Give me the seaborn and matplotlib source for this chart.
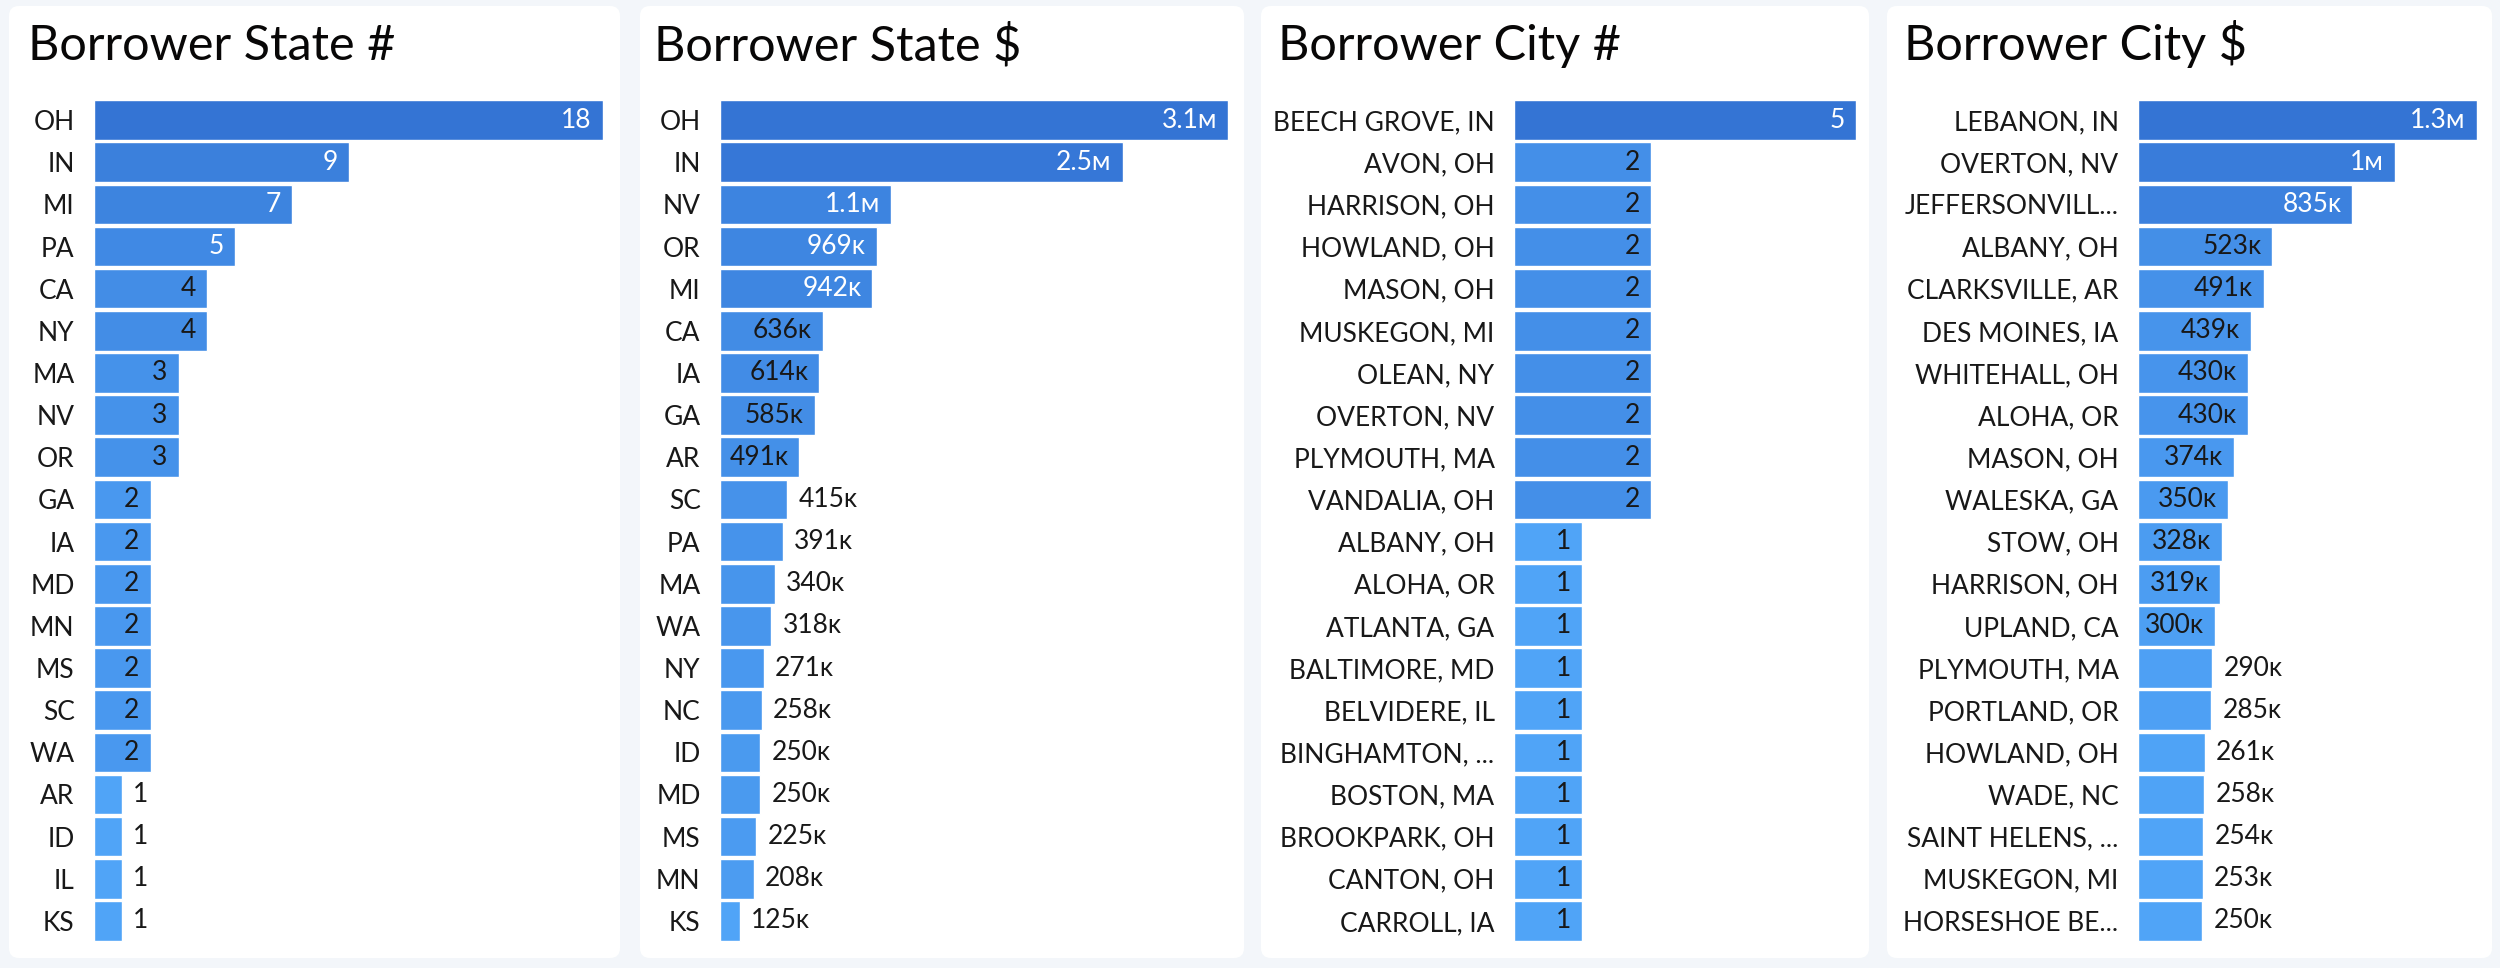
import numpy as np
import pandas as pd
import seaborn as sns
import matplotlib.pyplot as plt
from matplotlib.patches import FancyBboxPatch
from matplotlib.colors import to_rgb

# --- data ---
state_names = ["OH", "IN", "MI", "PA", "CA", "NY", "MA", "NV", "OR", "GA",
               "IA", "MD", "MN", "MS", "SC", "WA", "AR", "ID", "IL", "KS"]
state_counts = [18, 9, 7, 5, 4, 4, 3, 3, 3, 2, 2, 2, 2, 2, 2, 2, 1, 1, 1, 1]

state_amt_names = ["OH", "IN", "NV", "OR", "MI", "CA", "IA", "GA", "AR", "SC",
                   "PA", "MA", "WA", "NY", "NC", "ID", "MD", "MS", "MN", "KS"]
state_amounts = [3140000, 2490000, 1060000, 969000, 942000, 636000, 614000,
                 585000, 491000, 415000, 391000, 340000, 318000, 271000,
                 258000, 250000, 250000, 225000, 208000, 125000]

city_names = ["BEECH GROVE, IN", "AVON, OH", "HARRISON, OH", "HOWLAND, OH",
              "MASON, OH", "MUSKEGON, MI", "OLEAN, NY", "OVERTON, NV",
              "PLYMOUTH, MA", "VANDALIA, OH", "ALBANY, OH", "ALOHA, OR",
              "ATLANTA, GA", "BALTIMORE, MD", "BELVIDERE, IL", "BINGHAMTON, ...",
              "BOSTON, MA", "BROOKPARK, OH", "CANTON, OH", "CARROLL, IA"]
city_counts = [5, 2, 2, 2, 2, 2, 2, 2, 2, 2, 1, 1, 1, 1, 1, 1, 1, 1, 1, 1]

city_amt_names = ["LEBANON, IN", "OVERTON, NV", "JEFFERSONVILL...", "ALBANY, OH",
                  "CLARKSVILLE, AR", "DES MOINES, IA", "WHITEHALL, OH", "ALOHA, OR",
                  "MASON, OH", "WALESKA, GA", "STOW, OH", "HARRISON, OH",
                  "UPLAND, CA", "PLYMOUTH, MA", "PORTLAND, OR", "HOWLAND, OH",
                  "WADE, NC", "SAINT HELENS, ...", "MUSKEGON, MI", "HORSESHOE BE..."]
city_amounts = [1320000, 1000000, 835000, 523000, 491000, 439000, 430000, 430000,
                374000, 350000, 328000, 319000, 300000, 290000, 285000, 261000,
                258000, 254000, 253000, 250000]

titles = ["Borrower State #", "Borrower State $", "Borrower City #", "Borrower City $"]


def fmt_count(v):
    return str(v)


def fmt_money(v):
    if v >= 1e6:
        return f"{v / 1e6:.1f}".rstrip("0").rstrip(".") + "\u1d0d"
    return f"{v / 1e3:.0f}\u1d0b"


dark = np.array(to_rgb("#3474d4"))
light = np.array(to_rgb("#50a4f7"))


def shades(vals):
    v = np.asarray(vals, float)
    t = np.log(v / v.min()) / np.log(v.max() / v.min())
    return [tuple(light + (dark - light) * ti) for ti in t], t


sns.set_theme(style="white")
plt.rcParams["font.family"] = ["Lato", "DejaVu Sans"]

W, H = 2500, 968
fig = plt.figure(figsize=(W / 100, H / 100), dpi=100, facecolor="#f3f6fa")

# white cards behind each chart
bg = fig.add_axes([0, 0, 1, 1], zorder=0)
bg.set_xlim(0, W)
bg.set_ylim(H, 0)
bg.axis("off")
cards = [(9, 620), (640, 1244), (1261, 1869), (1887, 2492)]
for c0, c1 in cards:
    bg.add_patch(FancyBboxPatch((c0, 6), c1 - c0, 952,
                                boxstyle="round,pad=0,rounding_size=10",
                                fc="white", ec="none"))

bar_x = [(94, 603), (720, 1228), (1514, 1856), (2138, 2477)]
title_x = [28, 654, 1278, 1904]
top, bottom = 99, 942
text_dark = "#181818"
fs = 19

series = [(state_names, state_counts, fmt_count),
          (state_amt_names, state_amounts, fmt_money),
          (city_names, city_counts, fmt_count),
          (city_amt_names, city_amounts, fmt_money)]

renderer = fig.canvas.get_renderer()

for i, (names, vals, fmt) in enumerate(series):
    x0, x1 = bar_x[i]
    ax = fig.add_axes([x0 / W, 1 - bottom / H, (x1 - x0) / W, (bottom - top) / H], zorder=2)
    ax.patch.set_alpha(0)
    cols, t = shades(vals)
    df = pd.DataFrame({"name": names, "value": vals})
    sns.barplot(data=df, x="value", y="name", hue="name", palette=cols,
                order=names, hue_order=names, orient="h", width=0.94,
                saturation=1, legend=False, ax=ax)
    ax.set_xlim(0, max(vals))
    ax.set_ylim(len(vals) - 0.5, -0.5)
    sns.despine(ax=ax, left=True, bottom=True)
    ax.set_xticks([])
    ax.set_xlabel("")
    ax.set_ylabel("")
    ax.tick_params(axis="y", length=0, pad=14, labelsize=fs, labelcolor=text_dark)

    fig.text(title_x[i] / W, 1 - 60 / H, titles[i], fontsize=35, color="#080707",
             va="baseline")

    for j, (v, tj) in enumerate(zip(vals, t)):
        bar_px = ax.transData.transform((v, 0))[0] - ax.transData.transform((0, 0))[0]
        txt = ax.annotate(fmt(v), (v, j), xytext=(-8, 0), textcoords="offset points",
                          ha="right", va="center", fontsize=fs,
                          color="white" if tj > 0.53 else text_dark)
        if txt.get_window_extent(renderer).width + 17 > bar_px:
            txt.set_ha("left")
            txt.xyann = (8, 0)
            txt.set_color(text_dark)

fig.savefig("out.png", dpi=100, facecolor=fig.get_facecolor())
